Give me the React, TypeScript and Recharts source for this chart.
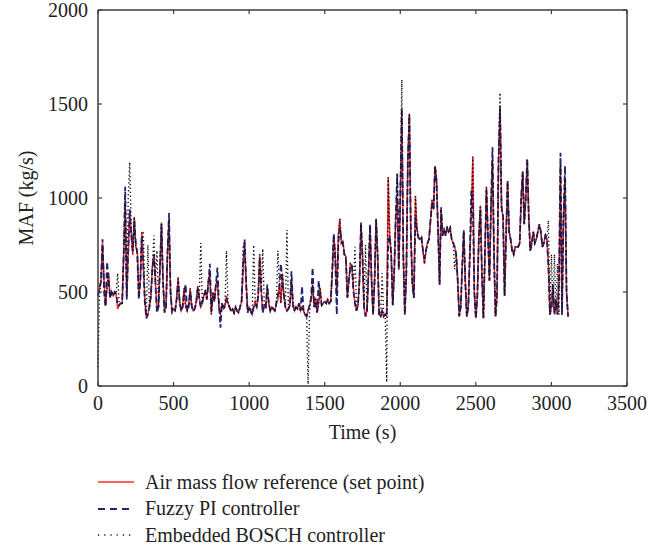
import React from 'react';
import { LineChart, Line, XAxis, YAxis, Legend } from 'recharts';

// MAF samples every 10 s (kg/s)
const SAMPLE_STEP_S = 10;

const REF_MAF = [
  480, 520, 560, 760, 560, 430, 520, 600, 470, 500,
  480, 500, 490, 410, 430, 440, 440, 700, 1000, 480,
  700, 920, 820, 700, 900, 740, 720, 480, 560, 820,
  640, 460, 370, 380, 420, 480, 640, 700, 560, 400,
  420, 640, 870, 560, 400, 420, 700, 880, 500, 400,
  410, 400, 460, 580, 450, 400, 420, 520, 420, 400,
  430, 520, 420, 400, 410, 450, 530, 470, 420, 440,
  480, 510, 460, 560, 600, 380, 500, 450, 540, 560,
  420, 380, 440, 410, 420, 480, 440, 420, 400, 410,
  390, 420, 400, 390, 420, 450, 620, 760, 560, 400,
  420, 400, 380, 420, 450, 420, 480, 700, 500, 390,
  430, 420, 520, 440, 400, 420, 410, 400, 440, 460,
  540, 440, 600, 480, 420, 400, 410, 430, 560, 430,
  400, 420, 410, 440, 400, 420, 400, 380, 370, 400,
  430, 460, 540, 420, 470, 390, 440, 520, 430, 440,
  450, 440, 460, 440, 450, 600, 800, 700, 480, 800,
  890, 760, 770, 700, 690, 470, 560, 650, 640, 520,
  440, 400, 430, 560, 860, 700, 420, 370, 400, 600,
  850, 560, 380, 560, 890, 700, 380, 370, 400, 370,
  380, 370, 1110, 800, 700, 430, 600, 900, 1000, 620,
  1000, 1460, 700, 380, 600, 1200, 1450, 800, 540, 470,
  1010, 840, 790, 780, 790, 720, 650, 720, 760, 780,
  880, 990, 940, 1170, 1100, 820, 540, 950, 800, 830,
  800, 840, 820, 840, 780, 760, 740, 700, 560, 370,
  420, 640, 820, 560, 370, 420, 700, 920, 1220, 500,
  360, 480, 800, 960, 600, 360, 700, 1060, 800, 560,
  950, 1200, 700, 370, 480, 1200, 1490, 950, 900, 480,
  800, 1090, 820, 780, 720, 700, 740, 740, 740, 760,
  1000, 1140, 860, 1000, 1200, 900, 720, 760, 820, 760,
  780, 820, 860, 820, 740, 760, 800, 780, 640, 380,
  420, 540, 380, 460, 380, 560, 1180, 380, 900, 1100,
  500, 370,
];

const FUZZY_MAF = [
  480, 520, 560, 780, 500, 420, 660, 560, 470, 500,
  480, 500, 490, 430, 430, 440, 440, 700, 1060, 460,
  720, 940, 800, 720, 880, 760, 700, 460, 560, 800,
  640, 440, 360, 380, 420, 480, 620, 700, 540, 390,
  420, 620, 860, 560, 390, 420, 720, 920, 500, 390,
  400, 400, 460, 560, 450, 400, 420, 500, 540, 400,
  420, 500, 430, 400, 410, 440, 520, 460, 420, 450,
  480, 500, 460, 540, 650, 400, 480, 450, 540, 630,
  440, 310, 440, 420, 430, 460, 440, 420, 400, 410,
  390, 420, 400, 390, 420, 450, 640, 780, 540, 390,
  420, 400, 380, 420, 440, 420, 480, 680, 520, 390,
  430, 420, 540, 440, 400, 420, 410, 400, 440, 480,
  520, 650, 560, 480, 420, 400, 410, 430, 610, 430,
  400, 420, 410, 440, 400, 530, 400, 380, 370, 400,
  430, 470, 630, 420, 450, 390, 560, 480, 430, 440,
  450, 440, 460, 440, 450, 620, 810, 660, 380, 760,
  840, 780, 760, 700, 680, 470, 560, 640, 640, 500,
  440, 400, 430, 560, 870, 680, 420, 370, 400, 620,
  860, 560, 380, 560, 880, 700, 380, 370, 400, 370,
  380, 370, 760, 800, 700, 430, 620, 900, 1130, 620,
  1000, 1480, 700, 380, 600, 1200, 1440, 800, 540, 470,
  900, 820, 790, 780, 790, 720, 680, 720, 760, 780,
  880, 970, 940, 1170, 1080, 820, 540, 940, 800, 830,
  800, 840, 820, 840, 780, 760, 740, 700, 560, 370,
  420, 640, 830, 560, 370, 420, 700, 1040, 950, 500,
  360, 480, 800, 940, 600, 360, 700, 1040, 800, 560,
  950, 1270, 700, 370, 480, 1200, 1480, 950, 900, 480,
  800, 1090, 820, 780, 720, 700, 740, 740, 740, 760,
  1000, 1140, 860, 1000, 1210, 900, 720, 760, 820, 760,
  780, 820, 860, 820, 740, 760, 800, 780, 640, 380,
  420, 540, 380, 460, 380, 560, 1240, 380, 900, 1170,
  500, 370,
];

const BOSCH_MAF = [
  100, 480, 560, 740, 560, 430, 520, 600, 470, 500,
  480, 500, 490, 600, 430, 440, 440, 700, 980, 480,
  1000, 1190, 820, 700, 900, 740, 720, 480, 560, 820,
  820, 460, 370, 750, 420, 480, 640, 800, 560, 720,
  420, 640, 870, 560, 400, 420, 700, 880, 500, 400,
  410, 400, 460, 580, 450, 400, 420, 520, 420, 400,
  430, 520, 420, 400, 410, 450, 530, 470, 760, 440,
  480, 510, 460, 560, 600, 380, 500, 450, 540, 560,
  420, 380, 440, 410, 420, 720, 440, 420, 400, 410,
  390, 420, 400, 390, 420, 450, 740, 760, 560, 400,
  420, 400, 380, 750, 450, 420, 480, 700, 500, 730,
  430, 420, 520, 440, 400, 420, 410, 400, 440, 720,
  540, 440, 600, 480, 420, 830, 410, 430, 560, 430,
  400, 420, 410, 440, 400, 420, 400, 380, 380, 10,
  400, 460, 540, 420, 470, 390, 440, 520, 430, 440,
  450, 440, 460, 440, 450, 600, 800, 700, 480, 800,
  890, 760, 770, 700, 690, 470, 560, 650, 640, 520,
  740, 400, 430, 560, 860, 700, 420, 750, 400, 600,
  850, 560, 380, 560, 890, 700, 380, 370, 600, 380,
  380, 20, 1110, 800, 700, 430, 600, 900, 1130, 620,
  1000, 1630, 700, 380, 600, 1200, 1450, 800, 540, 470,
  1010, 840, 790, 780, 790, 720, 650, 720, 760, 780,
  880, 990, 940, 1170, 1100, 820, 540, 950, 800, 830,
  800, 840, 820, 840, 780, 760, 620, 700, 560, 370,
  420, 640, 820, 560, 370, 420, 700, 920, 1220, 500,
  360, 480, 800, 960, 600, 360, 700, 1060, 800, 560,
  950, 1200, 700, 370, 480, 1200, 1560, 950, 900, 480,
  800, 1090, 820, 780, 720, 700, 740, 740, 740, 760,
  1000, 1140, 860, 1000, 1200, 900, 720, 760, 820, 760,
  780, 820, 860, 820, 740, 760, 800, 780, 880, 380,
  700, 420, 700, 400, 650, 380, 1180, 380, 900, 1100,
  500, 370,
];

const X_TICKS = [0, 500, 1000, 1500, 2000, 2500, 3000, 3500];
const Y_TICKS = [0, 500, 1000, 1500, 2000];

const SERIES = [
  { key: 'ref', name: 'Air mass flow reference (set point)', color: '#ff2a2a', dash: undefined, width: 1.5 },
  { key: 'fuzzy', name: 'Fuzzy PI controller', color: '#23236f', dash: '6 3', width: 1.8 },
  { key: 'bosch', name: 'Embedded BOSCH controller', color: '#111111', dash: '1.3 2.6', width: 1.4 },
];

const data = REF_MAF.map((v, i) => ({
  t: i * SAMPLE_STEP_S,
  ref: v,
  fuzzy: FUZZY_MAF[i],
  bosch: BOSCH_MAF[i],
}));

const AXIS = '#3c3c3c';
const FONT = '"Liberation Serif", "Times New Roman", serif';
const TEXT = '#222';

const BottomTick = ({ x, y, payload }: any) => (
  <g>
    <line x1={x} x2={x} y1={y} y2={y - 4} stroke={AXIS} strokeWidth={1.2} />
    <text x={x} y={y + 24} textAnchor="middle" fontSize={20} fill={TEXT} fontFamily={FONT}>
      {payload.value}
    </text>
  </g>
);

const LeftTick = ({ x, y, payload }: any) => (
  <g>
    <line x1={x} x2={x + 4} y1={y} y2={y} stroke={AXIS} strokeWidth={1.2} />
    <text x={x - 10} y={y + 7} textAnchor="end" fontSize={20} fill={TEXT} fontFamily={FONT}>
      {payload.value}
    </text>
  </g>
);

const TopTick = ({ x, y }: any) => (
  <line x1={x} x2={x} y1={y} y2={y + 4} stroke={AXIS} strokeWidth={1.2} />
);

const RightTick = ({ x, y }: any) => (
  <line x1={x} x2={x - 4} y1={y} y2={y} stroke={AXIS} strokeWidth={1.2} />
);

const XTitle = ({ viewBox }: any) => (
  <text x={viewBox.x + viewBox.width / 2} y={viewBox.y + 53} textAnchor="middle"
    fontSize={20} fill={TEXT} fontFamily={FONT}>
    Time (s)
  </text>
);

const YTitle = ({ viewBox }: any) => {
  const cx = viewBox.x + 26;
  const cy = viewBox.y + viewBox.height / 2;
  return (
    <text x={cx} y={cy} transform={`rotate(-90 ${cx} ${cy})`} textAnchor="middle"
      dominantBaseline="central" fontSize={20} fill={TEXT} fontFamily={FONT}>
      MAF (kg/s)
    </text>
  );
};

const renderLegend = () => (
  <div style={{ fontFamily: FONT, fontSize: 20, color: TEXT }}>
    {SERIES.map((s) => (
      <div key={s.key} style={{ display: 'flex', alignItems: 'center', height: 26.5, whiteSpace: 'nowrap' }}>
        <svg width={36} height={10} style={{ marginRight: 11 }}>
          <line x1={0} x2={36} y1={5} y2={5} stroke={s.color} strokeWidth={s.width}
            strokeDasharray={s.key === 'fuzzy' ? '7 5' : s.key === 'bosch' ? '1.2 5' : undefined} />
        </svg>
        <span>{s.name}</span>
      </div>
    ))}
  </div>
);

export default function App() {
  return (
    <div style={{ position: 'absolute', left: 0, top: 0, width: 670, height: 548, background: '#fff' }}>
      <LineChart width={670} height={548} data={data}
        margin={{ top: 9, right: 42, left: 0, bottom: 102 }}>
        <XAxis dataKey="t" type="number" domain={[0, 3500]} ticks={X_TICKS} interval={0}
          tickSize={0} tickMargin={0} tickLine={false} height={60}
          axisLine={{ stroke: AXIS, strokeWidth: 1.5 }} tick={BottomTick} label={XTitle} />
        <XAxis xAxisId="top" orientation="top" dataKey="t" type="number" domain={[0, 3500]}
          ticks={X_TICKS} interval={0} tickSize={0} tickMargin={0} tickLine={false} height={1}
          axisLine={{ stroke: AXIS, strokeWidth: 1.5 }} tick={TopTick} />
        <YAxis type="number" domain={[0, 2000]} ticks={Y_TICKS} interval={0} width={98}
          tickSize={0} tickMargin={0} tickLine={false}
          axisLine={{ stroke: AXIS, strokeWidth: 1.5 }} tick={LeftTick} label={YTitle} />
        <YAxis yAxisId="right" orientation="right" type="number" domain={[0, 2000]} ticks={Y_TICKS}
          interval={0} width={1} tickSize={0} tickMargin={0} tickLine={false}
          axisLine={{ stroke: AXIS, strokeWidth: 1.5 }} tick={RightTick} />
        {/* invisible series so the mirrored frame axes get drawn */}
        <Line xAxisId="top" yAxisId="right" dataKey="ref" stroke="none" dot={false}
          activeDot={false} legendType="none" isAnimationActive={false} />
        {SERIES.map((s) => (
          <Line key={s.key} type="linear" dataKey={s.key} name={s.name} stroke={s.color}
            strokeWidth={s.width} strokeDasharray={s.dash} dot={false} activeDot={false}
            isAnimationActive={false} />
        ))}
        <Legend layout="vertical" align="center" verticalAlign="middle" content={renderLegend}
          wrapperStyle={{ left: 98, top: 469, width: 420 }} />
      </LineChart>
    </div>
  );
}
